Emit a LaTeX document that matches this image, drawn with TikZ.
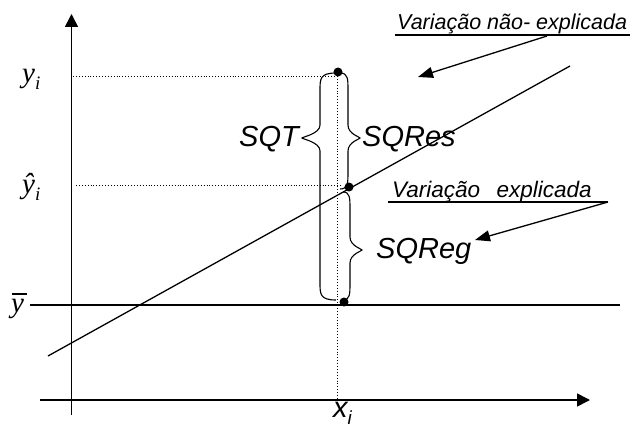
\documentclass[tikz,border=0pt]{standalone}
\usepackage{fontspec}
\usetikzlibrary{arrows.meta}
\newfontfamily\arial{Liberation Sans}
\newfontfamily\timesf{Liberation Serif}

% brace drawn from its curled top end to its curled bottom end
% #1 spine x, #2 tip x, #3 curl end x, #4 top y, #5 tip y, #6 bottom y
\newcommand\curlybrace[6]{%
  \draw[bracestyle] (#3,#4) .. controls (#1,#4) and (#1,#4+6) .. (#1,#4+17)
    -- (#1,#5-13) .. controls (#1,#5-4) and (#2,#5-1) .. (#2,#5)
    .. controls (#2,#5+1) and (#1,#5+4) .. (#1,#5+13)
    -- (#1,#6-17) .. controls (#1,#6-6) and (#1,#6) .. (#3,#6);}

% italic letter with a lowered italic index
\newcommand\indexed[2]{#1\raisebox{-0.25em}{\fontsize{19}{22}\selectfont #2}}

\begin{document}
\begin{tikzpicture}[x=1pt,y=-1pt,
  axis/.style={line width=1.6pt,-{Triangle[length=13pt,width=13pt]}},
  plainline/.style={line width=1.3pt},
  guide/.style={dotted,line width=0.9pt},
  pointer/.style={line width=1.3pt,-{Triangle[length=15pt,width=11pt]}},
  bracestyle/.style={line width=1.1pt},
  datum/.style={circle,fill=black,inner sep=0pt,minimum size=9pt},
  sqlabel/.style={inner sep=0pt,font=\arial\itshape\fontsize{29}{34}\selectfont},
  varlabel/.style={inner sep=0pt,font=\arial\itshape\fontsize{21.5}{26}\selectfont},
  ylabel/.style={inner sep=0pt,font=\timesf\itshape\fontsize{29}{34}\selectfont}]
\useasboundingbox (0,0) rectangle (637,428);

% axes
\coordinate (ybot) at (71.5,415);
\coordinate (ytop) at (71.5,14);
\coordinate (xleft) at (40,400);
\coordinate (xright) at (590,400);
\draw[axis] (ybot) -- (ytop);
\draw[axis] (xleft) -- (xright);

% mean level
\coordinate (mL) at (30,305);
\coordinate (mR) at (620,305);
\draw[plainline] (mL) -- (mR);

% regression line
\coordinate (rA) at (48,356);
\coordinate (rB) at (570,66);
\draw[plainline] (rA) -- (rB);

% guide lines
\coordinate (gy1) at (73,76);
\coordinate (gy1e) at (337,76);
\coordinate (gy2) at (76,185);
\coordinate (gy2e) at (341,185);
\coordinate (gxt) at (337,76);
\coordinate (gxb) at (337,400);
\draw[guide] (gy1) -- (gy1e);
\draw[guide] (gy2) -- (gy2e);
\draw[guide] (gxt) -- (gxb);

% braces
\curlybrace{320}{302}{336}{73}{138}{300}
\curlybrace{348}{360}{340}{73}{138}{189}
\curlybrace{350}{362}{343}{192}{250}{300}

% data points
\node[datum] (P) at (338,72) {};
\node[datum] (Q) at (349,187) {};
\node[datum] (R) at (344,302) {};

% axis labels
\node[ylabel,anchor=base west] (lyi) at (22,82) {\indexed{y}{i}};
\node[ylabel,anchor=base west] (lyhat) at (22,193) {\indexed{ŷ}{i}};
\node[ylabel,anchor=base west] (lybar) at (11,312) {y};
\coordinate (barL) at (12,294);
\coordinate (barR) at (27,294);
\draw[line width=1.1pt] (barL) -- (barR);
\node[sqlabel,anchor=base west] (lxi) at (333,417) {\indexed{x}{i}};

% sums of squares
\node[sqlabel,anchor=base east] (sqt) at (299,146) {SQT};
\node[sqlabel,anchor=base west] (sqres) at (362,146) {SQRes};
\node[sqlabel,anchor=base west] (sqreg) at (376,258) {SQReg};

% explanatory labels
\node[varlabel,anchor=base west] (vne) at (397,30) {Variação não- explicada};
\node[varlabel,anchor=base west,font=\arial\itshape\fontsize{22.5}{27}\selectfont]
  (ve) at (392,197) {Variação\hspace{0.45em} explicada};
\coordinate (uneL) at (395,35);
\coordinate (uneR) at (630,35);
\coordinate (ueL) at (388,202);
\coordinate (ueR) at (608,202);
\draw[line width=1.1pt] (uneL) -- (uneR);
\draw[line width=1.1pt] (ueL) -- (ueR);

% pointers
\coordinate (a1s) at (547,36);
\coordinate (a1e) at (418,77);
\coordinate (a2e) at (475,240);
\draw[pointer] (a1s) -- (a1e);
\draw[pointer] (ueR) -- (a2e);
\end{tikzpicture}
\end{document}
